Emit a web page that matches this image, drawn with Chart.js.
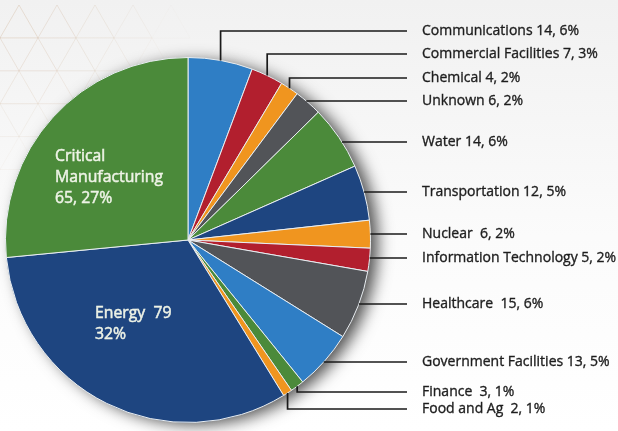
<!DOCTYPE html>
<html>
<head>
<meta charset="utf-8">
<script src="https://cdn.jsdelivr.net/npm/chart.js@4"></script>
<style>
html,body{margin:0;padding:0;background:#fff;}
#wrap{width:618px;height:431px;position:relative;}
</style>
</head>
<body>
<div id="wrap"><canvas id="c" width="618" height="431"></canvas></div>
<script>
// ---- data ----
const categories = ['Communications','Commercial Facilities','Chemical','Unknown','Water','Transportation','Nuclear ','Information Technology','Healthcare ','Government Facilities','Finance ','Food and Ag ','Energy ','Critical Manufacturing'];
const values = [14,7,4,6,14,12,6,5,15,13,3,2,79,65];

// ---- styles / layout ----
const BLUE='#2f7ec5', RED='#b21f2e', ORANGE='#f0951f', GRAY='#525458', GREEN='#4b8a3a', NAVY='#1e4580';
const colors = [BLUE,RED,ORANGE,GRAY,GREEN,NAVY,ORANGE,RED,GRAY,BLUE,GREEN,ORANGE,NAVY,GREEN];
const outsideLabelY = [31,54,78,101,142,192,234,258,304,362,392,409];
const insideLabels = {12:{x:95,y:[313,334]},13:{x:55,y:[156,177,198]}};

const total = values.reduce((a,b)=>a+b,0);
const pct = v => Math.round(v/total*100)+'%';

const bgPlugin = {
  id:'bg',
  beforeDraw(chart){
    const ctx=chart.ctx, W=chart.width, H=chart.height;
    ctx.save();
    const g=ctx.createLinearGradient(0,0,0,H);
    g.addColorStop(0,'#f1f1f1'); g.addColorStop(0.55,'#fbfbfb'); g.addColorStop(1,'#ffffff');
    ctx.fillStyle=g; ctx.fillRect(0,0,W,H);
    // faint triangle pattern top-left
    const s=38, h=s*Math.sqrt(3)/2;
    for(let row=0; row<7; row++){
      for(let col=-1; col<9; col++){
        const x0=col*s+(row%2?s/2:0), y0=row*h+5;
        const d=Math.hypot(x0,y0);
        const a=Math.max(0,0.4-d/420);
        if(a<=0) continue;
        ctx.strokeStyle='rgba(210,185,160,'+a+')';
        ctx.lineWidth=1;
        ctx.beginPath();
        ctx.moveTo(x0,y0+h); ctx.lineTo(x0+s/2,y0); ctx.lineTo(x0+s,y0+h); ctx.closePath();
        ctx.stroke();
      }
    }
    ctx.restore();
  },
  beforeDatasetsDraw(chart){
    const arc=chart.getDatasetMeta(0).data[0];
    if(!arc) return;
    const {x,y,outerRadius}=arc.getProps(['x','y','outerRadius'],true);
    const ctx=chart.ctx;
    ctx.save();
    ctx.shadowColor='rgba(0,0,0,0.7)';
    ctx.shadowBlur=16; ctx.shadowOffsetX=8; ctx.shadowOffsetY=3;
    ctx.fillStyle='#777';
    ctx.beginPath(); ctx.arc(x,y,outerRadius-1,0,Math.PI*2); ctx.fill();
    ctx.restore();
  }
};

const labelPlugin = {
  id:'labels',
  afterDatasetsDraw(chart){
    const ctx=chart.ctx;
    const meta=chart.getDatasetMeta(0);
    const lineEndX=407, textX=422;
    ctx.save();
    meta.data.forEach((arc,i)=>{
      const p=arc.getProps(['x','y','startAngle','endAngle','outerRadius'],true);
      const mid=(p.startAngle+p.endAngle)/2;
      const r=p.outerRadius;
      if(i<outsideLabelY.length){
        const ax=p.x+Math.cos(mid)*r, ay=p.y+Math.sin(mid)*r;
        const ly=outsideLabelY[i];
        ctx.strokeStyle='#1a1a1a'; ctx.lineWidth=1.7;
        ctx.beginPath();
        const dy=ly-ay;
        if(Math.abs(dy)>2 && Math.sign(dy)===Math.sign(ay-p.y)){
          ctx.moveTo(ax,ay); ctx.lineTo(ax,ly);
        } else {
          const ex=p.x+Math.sqrt(Math.max(0,r*r-(ly-p.y)*(ly-p.y)));
          ctx.moveTo(ex,ly);
        }
        ctx.lineTo(lineEndX,ly);
        ctx.stroke();
        const txt=categories[i]+' '+values[i]+', '+pct(values[i]);
        ctx.fillStyle='#1e1e1e'; ctx.strokeStyle='#1e1e1e'; ctx.lineWidth=0.35;
        ctx.font='14px "Open Sans", "Liberation Sans", sans-serif';
        ctx.textBaseline='middle'; ctx.textAlign='left';
        ctx.fillText(txt, textX, ly);
        ctx.strokeText(txt, textX, ly);
      } else if(insideLabels[i]){
        const L=insideLabels[i];
        let lines;
        if(i===13) lines=['Critical','Manufacturing',values[i]+', '+pct(values[i])];
        else lines=[categories[i]+' '+values[i], pct(values[i])];
        ctx.fillStyle='#eef3e6'; ctx.strokeStyle='#eef3e6'; ctx.lineWidth=0.5;
        ctx.font='15.8px "Open Sans", "Liberation Sans", sans-serif';
        ctx.textBaseline='middle'; ctx.textAlign='left';
        lines.forEach((t,k)=>{ctx.fillText(t,L.x,L.y[k]);ctx.strokeText(t,L.x,L.y[k]);});
      }
    });
    ctx.restore();
  }
};

new Chart(document.getElementById('c'),{
  type:'pie',
  data:{labels:categories,datasets:[{data:values,backgroundColor:colors,borderColor:'#e9eef2',borderWidth:1}]},
  options:{
    responsive:false,animation:false,
    layout:{padding:{left:5,top:57,right:247,bottom:8}},
    plugins:{legend:{display:false},tooltip:{enabled:false}}
  },
  plugins:[bgPlugin,labelPlugin]
});
</script>
</body>
</html>
